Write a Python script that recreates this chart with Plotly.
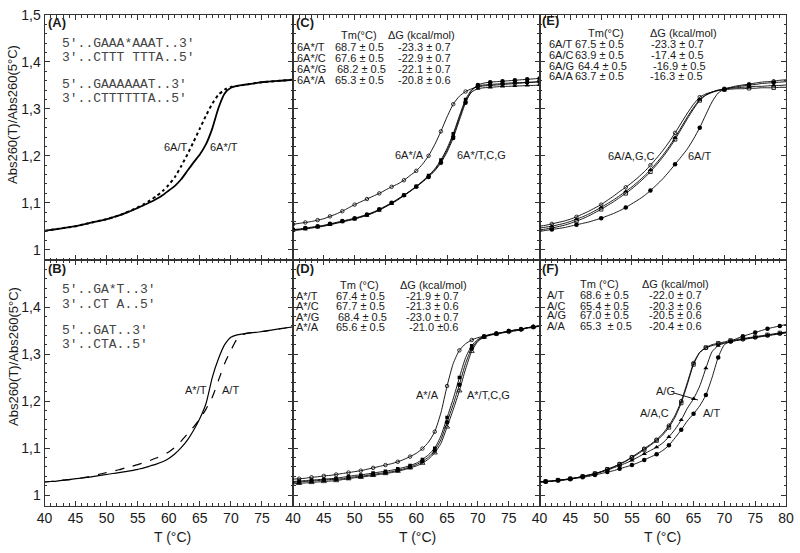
import plotly.graph_objects as go

# ---------------- data ----------------
T = list(range(40, 81))

# Panel A
A_6AsT = [1.040,1.042,1.044,1.046,1.048,1.050,1.053,1.056,1.059,1.062,
          1.065,1.069,1.073,1.078,1.083,1.089,1.095,1.101,1.108,1.116,
          1.126,1.136,1.150,1.168,1.186,1.203,1.225,1.258,1.302,1.333,
          1.345,1.349,1.351,1.353,1.355,1.357,1.358,1.359,1.360,1.361,1.362]
A_6AT = [1.040,1.042,1.044,1.046,1.048,1.050,1.053,1.056,1.059,1.062,
         1.065,1.069,1.073,1.078,1.084,1.090,1.097,1.105,1.114,1.125,
         1.138,1.155,1.178,1.203,1.230,1.258,1.286,1.311,1.330,1.341,
         1.347,1.349,1.351,1.353,1.355,1.357,1.358,1.359,1.360,1.361,1.362]
# Panel B
B_AsT = [1.028,1.029,1.030,1.032,1.033,1.035,1.036,1.038,1.040,1.042,
         1.044,1.046,1.048,1.050,1.052,1.055,1.058,1.062,1.066,1.071,
         1.078,1.088,1.101,1.117,1.138,1.163,1.195,1.250,1.290,1.320,
         1.336,1.341,1.343,1.345,1.346,1.348,1.350,1.352,1.354,1.356,1.358]
B_AT = [1.028,1.029,1.030,1.032,1.033,1.035,1.037,1.039,1.042,1.045,
        1.048,1.051,1.054,1.058,1.061,1.065,1.069,1.074,1.079,1.085,
        1.092,1.102,1.115,1.130,1.145,1.162,1.183,1.208,1.244,1.280,
        1.308,1.332,1.342,1.345,1.346,1.348,1.350,1.352,1.354,1.356,1.358]
# Panel C
C_A = [1.054,1.056,1.058,1.060,1.063,1.066,1.071,1.076,1.082,1.089,
       1.096,1.102,1.108,1.114,1.120,1.127,1.134,1.140,1.148,1.158,
       1.168,1.182,1.200,1.224,1.252,1.283,1.310,1.327,1.337,1.343,
       1.347,1.349,1.350,1.351,1.352,1.353,1.354,1.355,1.356,1.357,1.358]
C_T = [1.043,1.044,1.046,1.048,1.050,1.052,1.055,1.058,1.061,1.064,
       1.067,1.071,1.075,1.080,1.086,1.093,1.100,1.108,1.116,1.125,
       1.134,1.144,1.155,1.168,1.185,1.208,1.238,1.276,1.313,1.339,
       1.351,1.355,1.357,1.358,1.359,1.360,1.361,1.362,1.363,1.364,1.365]
C_C = [1.042,1.043,1.045,1.047,1.049,1.051,1.054,1.057,1.060,1.063,
       1.066,1.070,1.074,1.079,1.085,1.092,1.099,1.107,1.116,1.125,
       1.135,1.146,1.158,1.172,1.191,1.216,1.247,1.285,1.320,1.341,
       1.349,1.351,1.352,1.353,1.354,1.355,1.356,1.356,1.357,1.357,1.358]
C_G = [1.041,1.042,1.044,1.046,1.048,1.050,1.053,1.056,1.059,1.062,
       1.065,1.069,1.073,1.078,1.084,1.091,1.098,1.106,1.115,1.124,
       1.134,1.145,1.157,1.170,1.188,1.212,1.243,1.281,1.316,1.336,
       1.343,1.345,1.346,1.347,1.348,1.348,1.349,1.349,1.350,1.350,1.351]
# Panel D
D_A = [1.034,1.035,1.036,1.038,1.039,1.041,1.042,1.044,1.046,1.048,
       1.050,1.052,1.055,1.058,1.061,1.064,1.067,1.071,1.076,1.082,
       1.089,1.099,1.113,1.135,1.175,1.232,1.280,1.308,1.322,1.330,
       1.335,1.338,1.341,1.343,1.345,1.347,1.349,1.352,1.355,1.357,1.359]
D_T = [1.027,1.028,1.029,1.030,1.031,1.032,1.033,1.034,1.035,1.037,
       1.039,1.040,1.042,1.044,1.046,1.048,1.050,1.053,1.056,1.060,
       1.065,1.072,1.081,1.095,1.118,1.155,1.193,1.235,1.280,1.312,
       1.329,1.337,1.341,1.344,1.346,1.349,1.351,1.353,1.356,1.358,1.360]
D_C = [1.029,1.030,1.031,1.032,1.033,1.034,1.035,1.036,1.038,1.040,
       1.042,1.043,1.045,1.047,1.049,1.051,1.053,1.056,1.059,1.063,
       1.068,1.076,1.086,1.100,1.126,1.165,1.205,1.250,1.292,1.318,
       1.331,1.338,1.342,1.344,1.346,1.349,1.351,1.353,1.356,1.358,1.360]
D_G = [1.024,1.025,1.026,1.027,1.028,1.029,1.030,1.031,1.033,1.035,
       1.037,1.038,1.040,1.042,1.044,1.046,1.048,1.051,1.054,1.058,
       1.062,1.068,1.077,1.090,1.110,1.145,1.182,1.222,1.268,1.306,
       1.327,1.336,1.340,1.343,1.346,1.349,1.351,1.353,1.356,1.358,1.360]
# Panel E
E_T = [1.039,1.041,1.043,1.045,1.047,1.050,1.053,1.056,1.059,1.063,
       1.067,1.072,1.077,1.083,1.090,1.098,1.106,1.115,1.126,1.138,
       1.151,1.166,1.182,1.198,1.215,1.236,1.260,1.288,1.315,1.334,
       1.342,1.345,1.347,1.349,1.351,1.352,1.354,1.355,1.356,1.357,1.358]
E_A = [1.050,1.052,1.055,1.058,1.061,1.065,1.070,1.076,1.082,1.089,
       1.096,1.105,1.114,1.124,1.133,1.143,1.154,1.166,1.180,1.195,
       1.211,1.229,1.249,1.270,1.291,1.310,1.325,1.332,1.336,1.340,
       1.343,1.346,1.349,1.351,1.353,1.355,1.357,1.358,1.359,1.361,1.362]
E_G = [1.046,1.048,1.050,1.053,1.056,1.060,1.065,1.070,1.076,1.083,
       1.090,1.098,1.106,1.115,1.124,1.134,1.145,1.157,1.170,1.185,
       1.201,1.219,1.239,1.261,1.283,1.303,1.320,1.330,1.336,1.340,
       1.342,1.344,1.345,1.346,1.347,1.348,1.348,1.349,1.350,1.350,1.351]
E_C = [1.042,1.044,1.046,1.049,1.052,1.056,1.061,1.066,1.072,1.079,
       1.086,1.094,1.102,1.111,1.120,1.130,1.141,1.153,1.166,1.181,
       1.197,1.215,1.235,1.257,1.279,1.300,1.318,1.329,1.335,1.339,
       1.341,1.342,1.343,1.343,1.344,1.344,1.345,1.345,1.345,1.346,1.346]
# Panel F
F_A = [1.028,1.029,1.030,1.032,1.033,1.035,1.037,1.040,1.043,1.046,
       1.050,1.055,1.060,1.066,1.073,1.081,1.090,1.099,1.108,1.118,
       1.131,1.148,1.170,1.200,1.240,1.281,1.304,1.313,1.318,1.321,
       1.324,1.327,1.329,1.331,1.333,1.335,1.337,1.339,1.341,1.343,1.345]
F_C = [1.028,1.029,1.030,1.032,1.033,1.035,1.037,1.040,1.043,1.046,
       1.050,1.055,1.060,1.066,1.072,1.080,1.088,1.097,1.106,1.116,
       1.128,1.144,1.166,1.196,1.236,1.278,1.303,1.314,1.320,1.323,
       1.326,1.329,1.331,1.333,1.335,1.337,1.339,1.341,1.343,1.345,1.347]
F_G = [1.028,1.029,1.030,1.031,1.033,1.035,1.037,1.039,1.042,1.045,
       1.049,1.053,1.058,1.063,1.068,1.074,1.081,1.088,1.095,1.102,
       1.111,1.124,1.140,1.160,1.185,1.205,1.232,1.270,1.305,1.318,
       1.323,1.326,1.329,1.332,1.334,1.336,1.338,1.340,1.342,1.344,1.346]
F_T = [1.028,1.029,1.030,1.031,1.032,1.034,1.036,1.038,1.040,1.043,
       1.046,1.049,1.052,1.056,1.060,1.064,1.069,1.075,1.081,1.087,
       1.095,1.106,1.122,1.139,1.158,1.173,1.190,1.213,1.250,1.293,
       1.320,1.327,1.333,1.338,1.342,1.346,1.350,1.354,1.357,1.360,1.363]

# tick labels
Y_TICKS = [1.0, 1.1, 1.2, 1.3, 1.4, 1.5]
Y_TICKTEXT = ["1", "1,1", "1,2", "1,3", "1,4", "1,5"]
X_TICKS = [40, 45, 50, 55, 60, 65, 70, 75, 80]

# tables
C_rows = ["6A*/T", "6A*/C", "6A*/G", "6A*/A"]
C_tm = ["68.7 ± 0.5", "67.6 ± 0.5", "68.2 ± 0.5", "65.3 ± 0.5"]
C_dg = ["-23.3 ± 0.7", "-22.9 ± 0.7", "-22.1 ± 0.7", "-20.8 ± 0.6"]
D_rows = ["A*/T", "A*/C", "A*/G", "A*/A"]
D_tm = ["67.4 ± 0.5", "67.7 ± 0.5", "68.4 ± 0.5", "65.6 ± 0.5"]
D_dg = ["-21.9 ± 0.7", "-21.3 ± 0.6", "-23.0 ± 0.7", "-21.0 ±0.6"]
E_rows = ["6A/T", "6A/C", "6A/G", "6A/A"]
E_tm = ["67.5 ± 0.5", "63.9 ± 0.5", "64.4 ± 0.5", "63.7 ± 0.5"]
E_dg = ["-23.3 ± 0.7", "-17.4 ± 0.5", "-16.9 ± 0.5", "-16.3 ± 0.5"]
F_rows = ["A/T", "A/C", "A/G", "A/A"]
F_tm = ["68.6 ± 0.5", "65.4 ± 0.5", "67.0 ± 0.5", "65.3 &nbsp;± 0.5"]
F_dg = ["-22.0 ± 0.7", "-20.3 ± 0.6", "-20.5 ± 0.6", "-20.4 ± 0.6"]

# ---------------- layout helpers ----------------
W, H = 800, 553
def px(x):
    return x / W
def py(y):
    return 1 - y / H

SANS = "Liberation Sans, Arial, sans-serif"
MONO = "Liberation Mono, Courier New, monospace"
INK = "#1a1a1a"
TFS = 11  # table font size

col_px = [(44.5, 293), (293, 539.5), (539.5, 786)]
row_px = [(15, 260), (260, 505.5)]
# panel index -> (col, row):  1 A, 2 C, 3 E, 4 B, 5 D, 6 F
panel_pos = {1: (0, 0), 2: (1, 0), 3: (2, 0), 4: (0, 1), 5: (1, 1), 6: (2, 1)}

fig = go.Figure()
layout = dict(width=W, height=H, margin=dict(l=0, r=0, t=0, b=0, autoexpand=False),
              paper_bgcolor="white", plot_bgcolor="white", showlegend=False,
              font=dict(family=SANS, color=INK))

for i, (c, r) in panel_pos.items():
    xs = "" if i == 1 else str(i)
    x0, x1 = col_px[c]
    y0, y1 = row_px[r]
    xtv = X_TICKS if c == 2 else X_TICKS[:-1]
    layout["xaxis" + xs] = dict(
        domain=[px(x0), px(x1)], anchor="y" + xs, range=[40, 80],
        automargin=False, ticklabeloverflow="allow",
        tickmode="array", tickvals=xtv, ticktext=[str(v) for v in xtv],
        showticklabels=(r == 1), ticks="inside", ticklen=5, tickwidth=1,
        tickcolor="#333", showline=True, linecolor="#333", linewidth=1,
        mirror="ticks", showgrid=False, zeroline=False,
        tickfont=dict(size=14, family=SANS, color=INK),
        minor=dict(tickmode="linear", tick0=40, dtick=1, ticks="inside",
                   ticklen=2.5, tickcolor="#333", showgrid=False))
    ytv = Y_TICKS if r == 0 else Y_TICKS[:-1]
    ytt = Y_TICKTEXT if r == 0 else Y_TICKTEXT[:-1]
    layout["yaxis" + xs] = dict(
        domain=[py(y1), py(y0)], anchor="x" + xs, range=[0.978, 1.5001],
        automargin=False, ticklabeloverflow="allow",
        tickmode="array", tickvals=ytv, ticktext=ytt,
        showticklabels=(c == 0), ticks="inside", ticklen=5, tickwidth=1,
        tickcolor="#333", showline=True, linecolor="#333", linewidth=1,
        mirror="ticks", showgrid=False, zeroline=False,
        tickfont=dict(size=14, family=SANS, color=INK),
        minor=dict(tickmode="linear", tick0=1.0, dtick=0.02, ticks="inside",
                   ticklen=2.5, tickcolor="#333", showgrid=False))

def axes(i):
    s = "" if i == 1 else str(i)
    return "x" + s, "y" + s

def curve(i, y, width=1.0, dash="solid", symbol=None, msize=5, mstep=None):
    xa, ya = axes(i)
    fig.add_trace(go.Scatter(x=T, y=y, xaxis=xa, yaxis=ya, mode="lines",
                             line=dict(color="black", width=width, dash=dash,
                                       shape="spline", smoothing=0.6),
                             hoverinfo="skip"))
    if symbol is not None:
        sel = [k for k, t in enumerate(T) if t in mstep]
        open_ = symbol.endswith("-open")
        fig.add_trace(go.Scatter(
            x=[T[k] for k in sel], y=[y[k] for k in sel], xaxis=xa, yaxis=ya,
            mode="markers",
            marker=dict(symbol=symbol, size=msize, color="black",
                        line=dict(color="black", width=0.8 if open_ else 0)),
            hoverinfo="skip"))

EVEN = set(range(40, 81, 2))
ODD = set(range(41, 81, 2))
EVERY4 = set(range(42, 81, 4))

# A
curve(1, A_6AT, width=2.0, dash="dot")
curve(1, A_6AsT, width=1.8)
# B
curve(4, B_AT, width=1.2, dash="dash")
curve(4, B_AsT, width=1.2)
# C
curve(2, C_A, 0.9, symbol="circle-open", msize=3.5, mstep=EVEN)
curve(2, C_G, 0.9, symbol="triangle-up", msize=4.5, mstep=EVEN)
curve(2, C_C, 0.9, symbol="square", msize=3.5, mstep=EVEN)
curve(2, C_T, 0.9, symbol="circle", msize=4.5, mstep=EVEN)
# D
curve(5, D_A, 0.9, symbol="circle-open", msize=3.5, mstep=ODD)
curve(5, D_G, 0.9, symbol="triangle-up-open", msize=4.5, mstep=ODD)
curve(5, D_C, 0.9, symbol="square", msize=3.5, mstep=ODD)
curve(5, D_T, 0.9, symbol="circle", msize=4.5, mstep=ODD)
# E
curve(3, E_A, 0.9, symbol="circle-open", msize=3.5, mstep=EVERY4)
curve(3, E_G, 0.9, symbol="triangle-up", msize=4.5, mstep=EVERY4)
curve(3, E_C, 0.9, symbol="square-open", msize=3.5, mstep=EVERY4)
curve(3, E_T, 0.9, symbol="circle", msize=4.5, mstep=EVERY4)
# F
curve(6, F_A, 0.9, symbol="circle-open", msize=3.5, mstep=ODD)
curve(6, F_C, 0.9, symbol="square-open", msize=3.5, mstep=ODD)
curve(6, F_G, 0.9, symbol="triangle-up", msize=4.5, mstep=ODD)
curve(6, F_T, 0.9, symbol="circle", msize=4.5, mstep=ODD)

# ---------------- annotations ----------------
anns = []
def text(t, x, y, size=TFS, family=SANS, anchor="left", color=INK, angle=0):
    anns.append(dict(text=t, x=px(x), y=py(y), xref="paper", yref="paper",
                     xanchor=anchor, yanchor="middle", showarrow=False,
                     borderpad=0, borderwidth=0,
                     textangle=angle, font=dict(size=size, family=family, color=color)))

# panel letters
for lab, x, y in [("(A)", 48, 23), ("(B)", 48, 268), ("(C)", 296, 23),
                  ("(D)", 296, 268), ("(E)", 542, 20), ("(F)", 542, 268)]:
    text("<b>" + lab + "</b>", x, y, size=13)

# sequences
SEQ = "#444"
MFS = 13
text("5'..GAAA*AAAT..3'", 62, 43, MFS, MONO, color=SEQ)
text("3'..CTTT TTTA..5'", 62, 57, MFS, MONO, color=SEQ)
text("5'..GAAAAAAT..3'", 62, 84, MFS, MONO, color=SEQ)
text("3'..CTTTTTTA..5'", 62, 98, MFS, MONO, color=SEQ)
text("5'..GA*T..3'", 62, 289, MFS, MONO, color=SEQ)
text("3'..CT A..5'", 62, 304, MFS, MONO, color=SEQ)
text("5'..GAT..3'", 62, 330, MFS, MONO, color=SEQ)
text("3'..CTA..5'", 62, 345, MFS, MONO, color=SEQ)

# tables
def table(hx1, h1, hx2, h2, hy, rows, tm, dg, lx, tx, dx, ys):
    text(h1, hx1, hy)
    text(h2, hx2, hy)
    for k in range(4):
        text(rows[k], lx, ys[k])
        text(tm[k], tx[k], ys[k])
        text(dg[k], dx[k], ys[k])

table(341, "Tm(°C)", 388, "ΔG (kcal/mol)", 35, C_rows, C_tm, C_dg, 297,
      [335, 335, 337, 335], [398, 398, 398, 398], [46.5, 57.5, 68.5, 79.5])
table(340, "Tm (°C)", 400, "ΔG (kcal/mol)", 285, D_rows, D_tm, D_dg, 296,
      [336, 336, 338, 336], [406, 406, 406, 409], [295.5, 306, 316.5, 327])
table(588, "Tm(°C)", 650, "ΔG (kcal/mol)", 33, E_rows, E_tm, E_dg, 549,
      [575, 575, 578, 575], [651, 651, 653, 650], [44, 54.5, 65.5, 76.5])
table(580, "Tm (°C)", 642, "ΔG (kcal/mol)", 283.5, F_rows, F_tm, F_dg, 547,
      [580, 580, 580, 580], [649, 649, 649, 649], [295, 305.5, 315.5, 326])

# curve labels
text("6A/T", 164, 147)
text("6A*/T", 210, 147)
text("A*/T", 185, 390)
text("A/T", 222, 390)
text("6A*/A", 395, 155)
text("6A*/T,C,G", 457, 155)
text("A*/A", 416, 395)
text("A*/T,C,G", 467, 395)
text("6A/A,G,C", 608, 156)
text("6A/T", 688, 156)
text("A/G", 656, 391)
text("A/A,C", 640, 413)
text("A/T", 703, 413)

# axis titles
text("Abs260(T)/Abs260(5°C)", 13, 115, 13, anchor="center", angle=-90)
text("Abs260(T)/Abs260(5°C)", 13, 357, 13, anchor="center", angle=-90)
for cx in (172, 417, 662):
    text("T (°C)", cx, 537, 14, anchor="center")

layout["annotations"] = anns
layout["shapes"] = [dict(type="line", xref="paper", yref="paper",
                         x0=px(674), y0=py(393), x1=px(698), y1=py(400),
                         line=dict(color="black", width=0.9))]
fig.update_layout(**layout)
fig.write_html("out.html",
               config={"displayModeBar": False},
               post_script="document.body.style.margin='0';"
                           "document.body.style.overflow='hidden';")
